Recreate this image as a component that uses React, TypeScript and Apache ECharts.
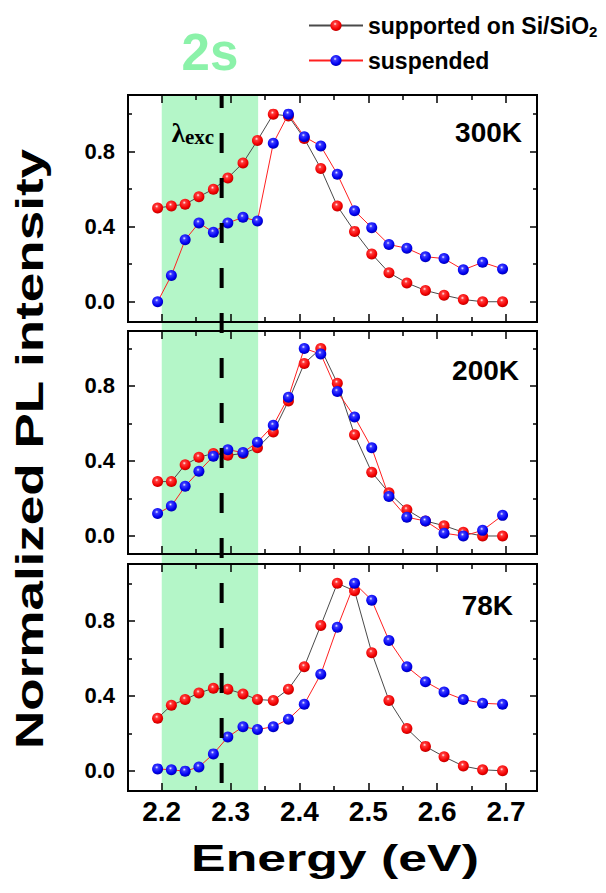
import React, { useEffect, useRef } from 'react';
import * as echarts from 'echarts';

// ---------- data ----------
const energies = [
  2.194, 2.214, 2.234, 2.254, 2.275, 2.296, 2.318, 2.339, 2.362, 2.384, 2.407,
  2.431, 2.455, 2.48, 2.505, 2.53, 2.556, 2.583, 2.61, 2.638, 2.666, 2.695,
];
const temperatures = ['300K', '200K', '78K'];
const seriesNames = ['supported on Si/SiO2', 'suspended'];

const supported300 = [0.5, 0.51, 0.52, 0.56, 0.6, 0.66, 0.74, 0.86, 1.0, 0.99, 0.87, 0.71, 0.51, 0.375, 0.255, 0.155, 0.1, 0.06, 0.035, 0.012, 0.0, 0.0];
const suspended300 = [0.0, 0.14, 0.33, 0.42, 0.37, 0.42, 0.45, 0.43, 0.845, 1.0, 0.88, 0.83, 0.68, 0.485, 0.395, 0.305, 0.285, 0.24, 0.23, 0.17, 0.21, 0.175];
const supported200 = [0.29, 0.29, 0.38, 0.42, 0.44, 0.43, 0.44, 0.47, 0.555, 0.72, 0.92, 1.0, 0.815, 0.54, 0.34, 0.23, 0.14, 0.08, 0.055, 0.02, 0.0, 0.0];
const suspended200 = [0.12, 0.16, 0.265, 0.345, 0.425, 0.46, 0.445, 0.5, 0.59, 0.74, 1.0, 0.97, 0.77, 0.635, 0.47, 0.21, 0.1, 0.08, 0.015, 0.0, 0.03, 0.11];
const supported78 = [0.28, 0.35, 0.38, 0.415, 0.44, 0.435, 0.41, 0.38, 0.375, 0.435, 0.555, 0.775, 1.0, 0.96, 0.63, 0.375, 0.225, 0.13, 0.075, 0.025, 0.005, 0.0];
const suspended78 = [0.01, 0.005, -0.002, 0.02, 0.09, 0.18, 0.235, 0.22, 0.235, 0.275, 0.355, 0.515, 0.765, 1.0, 0.91, 0.695, 0.555, 0.475, 0.42, 0.38, 0.36, 0.355];

const supportedData = [supported300, supported200, supported78];
const suspendedData = [suspended300, suspended200, suspended78];

const xMajorTicks = [2.2, 2.3, 2.4, 2.5, 2.6, 2.7];
const xMinorTicks = [2.25, 2.35, 2.45, 2.55, 2.65];
const yMajorTicks = [0, 0.4, 0.8];
const yMinorTicks = [0.2, 0.6, 1.0];
const bandRange = [2.2, 2.34];
const excitationEnergy = 2.287;

// ---------- layout ----------
const X_MIN = 2.151;
const X_MAX = 2.745;
const yRanges = [
  [-0.108, 1.102],
  [-0.096, 1.093],
  [-0.108, 1.103],
];
const GRID_LEFT = 128;
const GRID_RIGHT = 69;
const gridTops = [95, 331, 564];
const gridHeights = [227, 223, 227];
const FONT = 'Arial, "Liberation Sans", Helvetica, sans-serif';
const SERIF = '"Liberation Serif", "Times New Roman", serif';

const redBall = {
  type: 'radial', x: 0.42, y: 0.36, r: 0.68,
  colorStops: [
    { offset: 0, color: '#fff2f2' },
    { offset: 0.22, color: '#ff3a3a' },
    { offset: 0.7, color: '#f20000' },
    { offset: 1, color: '#b00000' },
  ],
};
const blueBall = {
  type: 'radial', x: 0.42, y: 0.36, r: 0.68,
  colorStops: [
    { offset: 0, color: '#f0f0ff' },
    { offset: 0.22, color: '#3a3aff' },
    { offset: 0.7, color: '#0000f0' },
    { offset: 1, color: '#0000a0' },
  ],
};

const tickStyle = { color: '#000', width: 1.5 };

function xAxesFor(g: number) {
  const common = {
    gridIndex: g, type: 'value', min: X_MIN, max: X_MAX,
    axisLine: { show: false, onZero: false }, splitLine: { show: false },
  };
  const make = (position: string, major: boolean, labels: boolean) => ({
    ...common,
    position,
    axisTick: { show: true, inside: true, length: major ? 8 : 5, lineStyle: tickStyle, customValues: major ? xMajorTicks : xMinorTicks },
    axisLabel: labels
      ? { show: true, customValues: xMajorTicks, formatter: (v: number) => v.toFixed(1), fontSize: 28, fontWeight: 'bold', color: '#000', margin: 6, fontFamily: FONT }
      : { show: false },
  });
  return [make('bottom', true, g === 2), make('bottom', false, false), make('top', true, false), make('top', false, false)];
}

function yAxesFor(g: number) {
  const common = {
    gridIndex: g, type: 'value', min: yRanges[g][0], max: yRanges[g][1],
    axisLine: { show: false, onZero: false }, splitLine: { show: false },
  };
  const make = (position: string, major: boolean, labels: boolean) => ({
    ...common,
    position,
    axisTick: { show: true, inside: true, length: major ? 7 : 4, lineStyle: tickStyle, customValues: major ? yMajorTicks : yMinorTicks },
    axisLabel: labels
      ? { show: true, customValues: yMajorTicks, formatter: (v: number) => v.toFixed(1), fontSize: 22, fontWeight: 'bold', color: '#000', margin: 13, fontFamily: FONT }
      : { show: false },
  });
  return [make('left', true, true), make('left', false, false), make('right', true, false), make('right', false, false)];
}

export default function App() {
  const ref = useRef<HTMLDivElement>(null);

  useEffect(() => {
    if (!ref.current) return;
    const chart = echarts.init(ref.current, undefined, { renderer: 'svg' });

    const grids = [0, 1, 2].map((g) => ({
      left: GRID_LEFT, right: GRID_RIGHT, top: gridTops[g], height: gridHeights[g],
      show: true, borderColor: '#000', borderWidth: 2, backgroundColor: 'transparent', containLabel: false,
    }));

    const xAxis: any[] = [];
    const yAxis: any[] = [];
    [0, 1, 2].forEach((g) => { xAxis.push(...xAxesFor(g)); yAxis.push(...yAxesFor(g)); });

    const series: any[] = [];
    [0, 1, 2].forEach((g) => {
      series.push({
        type: 'line', name: seriesNames[0], xAxisIndex: 4 * g, yAxisIndex: 4 * g,
        data: energies.map((e, i) => [e, supportedData[g][i]]),
        symbol: 'circle', symbolSize: 11, showSymbol: true,
        lineStyle: { color: '#4a4a4a', width: 1 }, itemStyle: { color: redBall as any },
        z: 3,
      });
      series.push({
        type: 'line', name: seriesNames[1], xAxisIndex: 4 * g, yAxisIndex: 4 * g,
        data: energies.map((e, i) => [e, suspendedData[g][i]]),
        symbol: 'circle', symbolSize: 11, showSymbol: true,
        lineStyle: { color: '#ff2020', width: 1 }, itemStyle: { color: blueBall as any },
        z: 4,
      });
    });

    chart.setOption({
      animation: false,
      backgroundColor: '#fff',
      grid: grids,
      xAxis,
      yAxis,
      series,
      legend: {
        data: seriesNames,
        orient: 'vertical',
        left: 303,
        top: 9,
        itemWidth: 54,
        itemHeight: 14,
        itemGap: 10,
        formatter: (name: string) => (name === seriesNames[0] ? '{a|supported on Si/SiO}{s|2}' : '{a|suspended}'),
        textStyle: {
          color: '#000', fontSize: 23, fontWeight: 'bold', fontFamily: FONT,
          rich: {
            a: { color: '#000', fontSize: 23, fontWeight: 'bold', fontFamily: FONT, lineHeight: 27 },
            s: { color: '#000', fontSize: 15, fontWeight: 'bold', fontFamily: FONT, lineHeight: 15, verticalAlign: 'bottom' },
          },
        },
      },
    });

    const xb0 = chart.convertToPixel({ xAxisIndex: 0 }, bandRange[0]) as number;
    const xb1 = chart.convertToPixel({ xAxisIndex: 0 }, bandRange[1]) as number;
    const xd = chart.convertToPixel({ xAxisIndex: 0 }, excitationEnergy) as number;
    const yTop = chart.convertToPixel({ yAxisIndex: 0 }, yRanges[0][1]) as number;
    const yBot = chart.convertToPixel({ yAxisIndex: 8 }, yRanges[2][0]) as number;

    const tempPos = [
      { x: 522, y: 132 },
      { x: 519, y: 370 },
      { x: 513, y: 605 },
    ];

    chart.setOption({
      graphic: [
        {
          type: 'rect', z: -1, silent: true,
          shape: { x: xb0, y: yTop, width: xb1 - xb0, height: yBot - yTop },
          style: { fill: '#b4f6c8' },
        },
        {
          type: 'line', z: 10, silent: true,
          shape: { x1: xd, y1: yTop, x2: xd, y2: yBot },
          style: { stroke: '#000', lineWidth: 4, lineDash: [20, 25], lineDashOffset: 7 },
        },
        {
          type: 'text', z: 10, x: (xb0 + xb1) / 2, y: 52,
          style: { text: '2s', fontSize: 51, fontWeight: 'bold', fontFamily: FONT, fill: '#8bf2a9', align: 'center', verticalAlign: 'middle' },
        },
        {
          type: 'text', z: 10, x: xb0 + 10, y: 133,
          style: {
            text: '{l|λ}{e|exc}', verticalAlign: 'middle', align: 'left',
            rich: {
              l: { fontSize: 27, fontWeight: 'bold', fontFamily: SERIF, fill: '#000', lineHeight: 28 },
              e: { fontSize: 21, fontWeight: 'bold', fontFamily: SERIF, fill: '#000', lineHeight: 19, verticalAlign: 'bottom' },
            },
          },
        },
        ...temperatures.map((t, g) => ({
          type: 'text', z: 10, x: tempPos[g].x, y: tempPos[g].y,
          style: { text: t, fontSize: 28, fontWeight: 'bold', fontFamily: FONT, fill: '#000', align: 'right', verticalAlign: 'middle' },
        })),
        {
          type: 'text', z: 10, x: 30, y: 449, rotation: Math.PI / 2, scaleX: 1.36,
          style: { text: 'Normalized PL intensity', fontSize: 39, fontWeight: 'bold', fontFamily: FONT, fill: '#000', align: 'center', verticalAlign: 'middle' },
        },
        {
          type: 'text', z: 10, x: 335, y: 858, scaleX: 1.4,
          style: { text: 'Energy (eV)', fontSize: 37, fontWeight: 'bold', fontFamily: FONT, fill: '#000', align: 'center', verticalAlign: 'middle' },
        },
      ],
    });

    return () => chart.dispose();
  }, []);

  return <div ref={ref} style={{ position: 'fixed', left: 0, top: 0, width: 606, height: 893 }} />;
}
